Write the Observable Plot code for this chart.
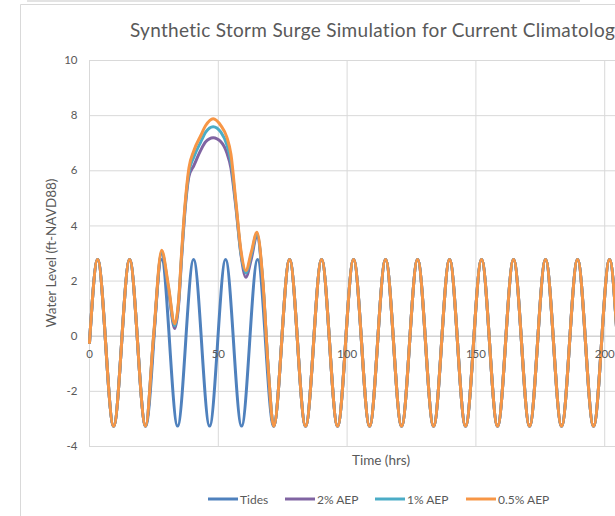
<!DOCTYPE html>
<html><head><meta charset="utf-8">
<script src="https://cdn.jsdelivr.net/npm/d3@7"></script>
<script src="https://cdn.jsdelivr.net/npm/@observablehq/plot@0.6"></script>
<style>
html,body{margin:0;padding:0;overflow:hidden;background:#fff;width:615px;height:516px;}
#wrap{position:relative;width:615px;height:516px;overflow:hidden;}
#wrap svg{position:absolute;left:0;top:0;max-width:none !important;width:700px !important;height:516px !important;}
</style></head><body>
<div id="wrap"></div>
<script>
// ---- data ----
const seriesNames = ["Tides", "2% AEP", "1% AEP", "0.5% AEP"];
const seriesColors = ["#4F81BD", "#8064A2", "#4BACC6", "#F79646"];
const xTicks = [0, 50, 100, 150, 200];
const yTicks = [-4, -2, 0, 2, 4, 6, 8, 10];

// tide: start point then successive high / low waters (hrs, ft)
const tideTimes = [0, 3.15, 9.36, 15.57, 21.78, 27.99, 34.2, 40.41, 46.62, 52.83, 59.04, 65.25, 71.46, 77.67, 83.88, 90.09, 96.3, 102.51, 108.72, 114.93, 121.14, 127.35, 133.56, 139.77, 145.98, 152.19, 158.4, 164.61, 170.82, 177.03, 183.24, 189.45, 195.66, 201.87, 208.08, 214.29, 220.5, 226.71];
const tideValues = [-0.23, 2.78, -3.26, 2.78, -3.26, 2.78, -3.26, 2.78, -3.26, 2.78, -3.26, 2.78, -3.26, 2.78, -3.26, 2.78, -3.26, 2.78, -3.26, 2.78, -3.26, 2.78, -3.26, 2.78, -3.26, 2.78, -3.26, 2.78, -3.26, 2.78, -3.26, 2.78, -3.26, 2.78, -3.26, 2.78, -3.26, 2.78];

// storm window (between the tide lows at 21.78 h and 71.46 h)
const surgeTimes = [24.9, 28.0, 30.6, 33.1, 34.6, 35.8, 37.2, 38.6, 40.5, 43.2, 45.1, 48.0, 51.0, 53.3, 54.9, 56.8, 58.8, 60.7, 62.8, 65.0, 67.3, 69.4];
const surge2 = [-0.05, 3.0, 1.7, 0.28, 1.15, 2.9, 4.7, 5.8, 6.19, 6.75, 7.05, 7.2, 7.05, 6.65, 6.1, 4.7, 2.95, 2.14, 2.8, 3.65, 1.9, -1.2];
const surge1 = [0.0, 3.05, 1.78, 0.38, 1.25, 3.0, 4.8, 5.95, 6.5, 7.05, 7.4, 7.6, 7.4, 6.95, 6.35, 4.8, 3.0, 2.3, 2.95, 3.72, 1.95, -1.2];
const surge05 = [0.05, 3.12, 1.85, 0.45, 1.3, 3.1, 4.9, 6.1, 6.73, 7.28, 7.64, 7.89, 7.64, 7.22, 6.6, 4.9, 3.1, 2.38, 3.05, 3.77, 2.0, -1.2];

// ---- build table ----
const rows = [];
tideTimes.forEach((t, i) => rows.push({series: "Tides", t, v: tideValues[i]}));
[[seriesNames[1], surge2], [seriesNames[2], surge1], [seriesNames[3], surge05]].forEach(([name, vals]) => {
  const pts = [];
  tideTimes.forEach((t, i) => { if (t <= 21.78 || t >= 71.46) pts.push({t, v: tideValues[i]}); });
  surgeTimes.forEach((t, i) => pts.push({t, v: vals[i]}));
  pts.sort((a, b) => a.t - b.t);
  pts.forEach(p => rows.push({series: name, t: p.t, v: p.v}));
});

const grid = "#d9d9d9";
const txt = "#595959";
const font = "Lato, 'Open Sans', sans-serif";

const chart = Plot.plot({
  width: 700, height: 516,
  marginLeft: 89, marginRight: 27, marginTop: 60, marginBottom: 70,
  style: {fontFamily: font, fontSize: "11px", color: txt, background: "transparent", overflow: "visible", maxWidth: "none"},
  x: {domain: [0, 226.7], axis: null},
  y: {domain: [-4, 10], axis: null},
  color: {domain: seriesNames, range: seriesColors},
  marks: [
    Plot.ruleX(xTicks, {stroke: grid, strokeWidth: 1}),
    Plot.ruleY(yTicks, {stroke: grid, strokeWidth: 1}),
    Plot.ruleY([0], {stroke: "#cccccc", strokeWidth: 1}),
    Plot.line(rows, {x: "t", y: "v", z: "series", stroke: "series", strokeWidth: 3, curve: "monotone-x", strokeLinejoin: "round"}),
    Plot.text(yTicks, {y: d => d, frameAnchor: "left", text: d => String(d), textAnchor: "end", dx: -12, fill: txt, fontSize: 11.5}),
    Plot.text(xTicks, {x: d => d, y: 0, text: d => String(d), textAnchor: "middle", dy: 18.5, fill: txt, fontSize: 11.5})
  ]
});
document.getElementById("wrap").appendChild(chart);

// ---- chart furniture: frame, titles, legend ----
const svg = d3.select(chart);
const deco = svg.append("g");
deco.append("rect").attr("x", 27).attr("y", 0).attr("width", 553).attr("height", 2).attr("fill", "#e3e3e3");
deco.append("line").attr("x1", 20.5).attr("x2", 700).attr("y1", 4.5).attr("y2", 4.5).attr("stroke", grid);
deco.append("line").attr("x1", 20.5).attr("x2", 20.5).attr("y1", 4.5).attr("y2", 516).attr("stroke", grid);

deco.append("text").attr("x", 130).attr("y", 36.5).attr("text-anchor", "start")
  .attr("font-family", font).attr("font-size", 19).attr("letter-spacing", 0.3).attr("fill", txt)
  .text("Synthetic Storm Surge Simulation for Current Climatology");
deco.append("text").attr("transform", "translate(56,253) rotate(-90)").attr("text-anchor", "middle")
  .attr("font-family", font).attr("font-size", 13.5).attr("fill", txt)
  .text("Water Level (ft-NAVD88)");
deco.append("text").attr("x", 381).attr("y", 464.5).attr("text-anchor", "middle")
  .attr("font-family", font).attr("font-size", 13.5).attr("fill", txt)
  .text("Time (hrs)");

const legendX = [208, 285, 375, 466];
const leg = deco.append("g");
seriesNames.forEach((name, i) => {
  leg.append("line").attr("x1", legendX[i]).attr("x2", legendX[i] + 30).attr("y1", 499).attr("y2", 499)
    .attr("stroke", seriesColors[i]).attr("stroke-width", 3);
  leg.append("text").attr("x", legendX[i] + 32).attr("y", 503.5).attr("text-anchor", "start").attr("font-family", font)
    .attr("font-size", 12).attr("fill", txt).text(name);
});
</script>
</body></html>
